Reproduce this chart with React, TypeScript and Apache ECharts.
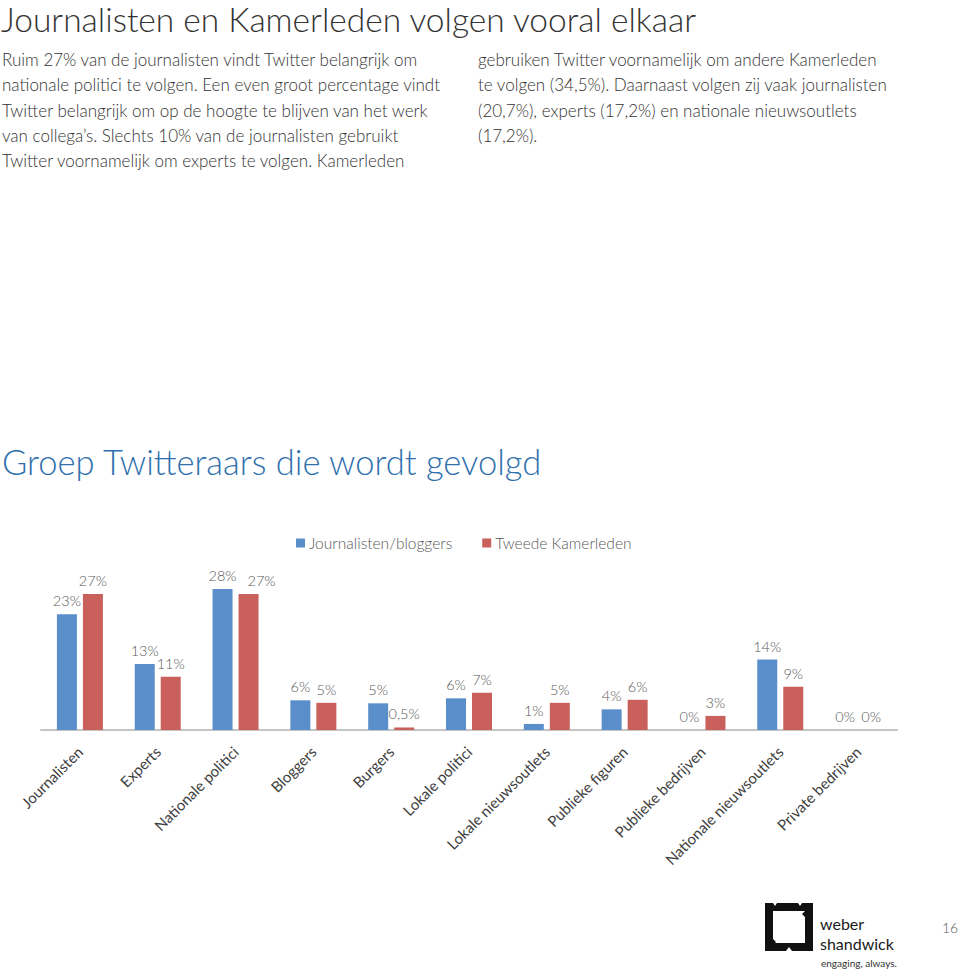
import React, { useEffect, useRef } from "react";
import * as echarts from "echarts";

const title = "Journalisten en Kamerleden volgen vooral elkaar";
const leftParagraph = [
  "Ruim 27% van de journalisten vindt Twitter belangrijk om",
  "nationale politici te volgen. Een even groot percentage vindt",
  "Twitter belangrijk om op de hoogte te blijven van het werk",
  "van collega’s. Slechts 10% van de journalisten gebruikt",
  "Twitter voornamelijk om experts te volgen. Kamerleden",
];
const rightParagraph = [
  "gebruiken Twitter voornamelijk om andere Kamerleden",
  "te volgen (34,5%). Daarnaast volgen zij vaak journalisten",
  "(20,7%), experts (17,2%) en nationale nieuwsoutlets",
  "(17,2%).",
];
const chartTitle = "Groep Twitteraars die wordt gevolgd";

const categories = [
  "Journalisten",
  "Experts",
  "Nationale politici",
  "Bloggers",
  "Burgers",
  "Lokale politici",
  "Lokale nieuwsoutlets",
  "Publieke figuren",
  "Publieke bedrijven",
  "Nationale nieuwsoutlets",
  "Private bedrijven",
];
const seriesNames = ["Journalisten/bloggers", "Tweede Kamerleden"];
const journalistenValues = [23, 13.1, 28, 5.9, 5.3, 6.3, 1.2, 4.1, 0, 14, 0];
const kamerledenValues = [27, 10.6, 27, 5.4, 0.5, 7.4, 5.4, 6, 2.8, 8.6, 0];

const FONT = "Lato";
const BLUE = "#5b8fcb";
const RED = "#c9605b";

// label nudges (style only), by category index
const redLabelOffsets: Record<number, number[]> = { 2: [13, 0] };

function fmt(v: number): string {
  if (v > 0 && v < 1) return String(v).replace(".", ",") + "%";
  return Math.round(v) + "%";
}

export default function App() {
  const ref = useRef<HTMLDivElement>(null);

  useEffect(() => {
    document.body.style.margin = "0";
    const el = ref.current;
    if (!el) return;
    echarts.graphic.registerShape(
      "wsframe",
      echarts.graphic.extendPath(
        "M0 0 L8 0 L10 3 L12 0 L33 0 L35 3 L37 0 L48 0 L48 48 L27 48 L24 44 L21 48 L0 48 Z M8 8 L8 36 L11 39 L8 42 L8 40 L40 40 L40 14 L37 11 L40 8 Z",
        {}
      ) as any
    );
    const chart = echarts.init(el, null, { renderer: "svg" });

    const labelCommon = {
      show: true,
      position: "top" as const,
      distance: 6,
      color: "#595959",
      fontFamily: FONT,
      fontWeight: 300,
      fontSize: 14.5,
      formatter: (p: any) => fmt(p.value),
    };

    const redData = kamerledenValues.map((v, i) =>
      redLabelOffsets[i] ? { value: v, label: { offset: redLabelOffsets[i] } } : v
    );

    chart.setOption({
      animation: false,
      backgroundColor: "#ffffff",
      textStyle: { fontFamily: FONT },
      legend: {
        left: 291,
        top: 530,
        icon: "rect",
        itemWidth: 9,
        itemHeight: 9,
        itemGap: 30,
        textStyle: { color: "#595959", fontSize: 15.5, fontFamily: FONT, fontWeight: 300, padding: [0, 0, 0, -1] },
        data: seriesNames,
      },
      grid: { left: 41, right: 63, top: 579, bottom: 240, containLabel: false },
      xAxis: {
        type: "category",
        data: categories,
        axisLine: { show: true, lineStyle: { color: "#c4c4c4", width: 2 } },
        axisTick: { show: false },
        axisLabel: {
          rotate: 45,
          interval: 0,
          margin: 19,
          color: "#404040",
          fontSize: 15,
          fontFamily: FONT,
        },
      },
      yAxis: {
        type: "value",
        min: 0,
        max: 30,
        show: false,
        splitLine: { show: false },
      },
      series: [
        {
          name: seriesNames[0],
          type: "bar",
          data: journalistenValues,
          barWidth: 20,
          barGap: "30%",
          itemStyle: { color: BLUE },
          label: labelCommon,
        },
        {
          name: seriesNames[1],
          type: "bar",
          data: redData,
          barWidth: 20,
          barGap: "30%",
          itemStyle: { color: RED },
          label: labelCommon,
        },
      ],
      graphic: [
        {
          type: "text",
          x: 1,
          y: 18.5,
          style: { text: title, fontSize: 33.5, lineHeight: 28, fontWeight: 300, fontFamily: FONT, fill: "#333333", verticalAlign: "middle" },
        },
        {
          type: "text",
          x: 2,
          y: 47,
          style: {
            text: leftParagraph.join("\n"),
            fontSize: 17,
            fontWeight: 300,
            lineHeight: 25.3,
            fontFamily: FONT,
            fill: "#333333",
          },
        },
        {
          type: "text",
          x: 478,
          y: 47,
          style: {
            text: rightParagraph.join("\n"),
            fontSize: 17,
            fontWeight: 300,
            lineHeight: 25.3,
            fontFamily: FONT,
            fill: "#333333",
          },
        },
        {
          type: "text",
          x: 2,
          y: 461,
          style: { text: chartTitle, fontSize: 34.5, fontWeight: 300, fontFamily: FONT, fill: "#2f70ad", verticalAlign: "middle" },
        },
        {
          type: "wsframe",
          x: 765,
          y: 903,
          scaleX: 1,
          scaleY: 1,
          style: { fill: "#111111" },
        },
        {
          type: "text",
          x: 820,
          y: 923,
          style: { text: "weber", fontSize: 16, lineHeight: 14, fontFamily: FONT, fill: "#1a1a1a", verticalAlign: "middle" },
        },
        {
          type: "text",
          x: 820,
          y: 943,
          style: { text: "shandwick", fontSize: 16, lineHeight: 14, fontFamily: FONT, fill: "#1a1a1a", verticalAlign: "middle" },
        },
        {
          type: "text",
          x: 821,
          y: 958,
          style: { text: "engaging, always.", fontSize: 10, fontFamily: FONT, fill: "#333333" },
        },
        {
          type: "text",
          x: 942,
          y: 920,
          style: { text: "16", fontSize: 14, fontWeight: 300, fontFamily: FONT, fill: "#595959" },
        },
      ],
    });

    return () => chart.dispose();
  }, []);

  return <div ref={ref} style={{ width: 960, height: 970 }} />;
}
